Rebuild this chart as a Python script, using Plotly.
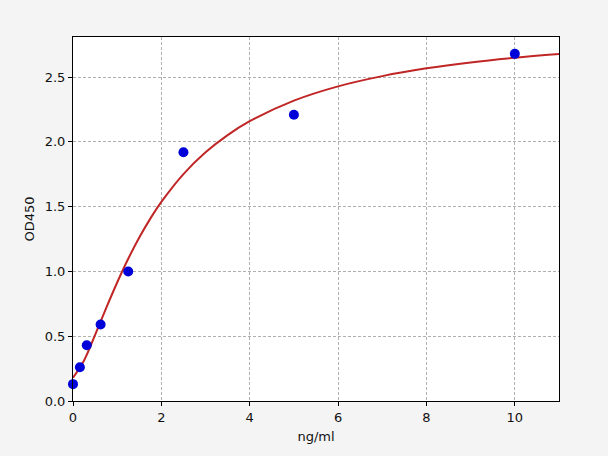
import plotly.graph_objects as go

# standards (ng/ml) and measured OD450
conc = [0, 0.156, 0.312, 0.625, 1.25, 2.5, 5, 10]
od450 = [0.13, 0.26, 0.43, 0.59, 1.00, 1.92, 2.21, 2.68]

# fitted curve
curve_x = [0, 0.25, 0.5, 0.75, 1, 1.25, 1.5, 1.75, 2, 2.5, 3, 3.5, 4, 5, 6, 7, 8, 9, 10, 11]
curve_y = [0.18, 0.313, 0.510, 0.717, 0.915, 1.098, 1.262, 1.408, 1.537, 1.752, 1.920,
           2.053, 2.160, 2.319, 2.429, 2.508, 2.568, 2.614, 2.650, 2.679]

x_ticks = [0, 2, 4, 6, 8, 10]
y_ticks = [0.0, 0.5, 1.0, 1.5, 2.0, 2.5]
y_labels = ['0.0', '0.5', '1.0', '1.5', '2.0', '2.5']

fig = go.Figure()

fig.add_trace(go.Scatter(x=curve_x, y=curve_y, mode='lines',
                         line=dict(color='#c02626', width=2, shape='spline'),
                         showlegend=False))

fig.add_trace(go.Scatter(x=conc, y=od450, mode='markers',
                         marker=dict(color='#0000d8', size=10),
                         cliponaxis=False, showlegend=False))

axis_style = dict(showline=True, linecolor='black', linewidth=1, mirror=True,
                  ticks='outside', ticklen=4, tickcolor='black',
                  showgrid=True, gridcolor='#b0b0b0', griddash='3px,2px', gridwidth=1,
                  zeroline=False, tickfont=dict(size=13, color='#111'))

fig.update_xaxes(range=[0, 11], tickvals=x_ticks,
                 title=dict(text='ng/ml', font=dict(size=13, color='#111'), standoff=8),
                 **axis_style)
fig.update_yaxes(range=[0, 2.81], tickvals=y_ticks, ticktext=y_labels,
                 title=dict(text='OD450', font=dict(size=13, color='#111'), standoff=7),
                 **axis_style)

fig.update_layout(width=608, height=456,
                  margin=dict(l=73, r=49, t=37, b=55),
                  paper_bgcolor='#f4f4f4', plot_bgcolor='white',
                  font=dict(family='DejaVu Sans'))

fig.write_html('out.html', config={'displayModeBar': False},
               post_script="document.body.style.margin='0';"
                           "document.body.style.background='#f4f4f4';")
